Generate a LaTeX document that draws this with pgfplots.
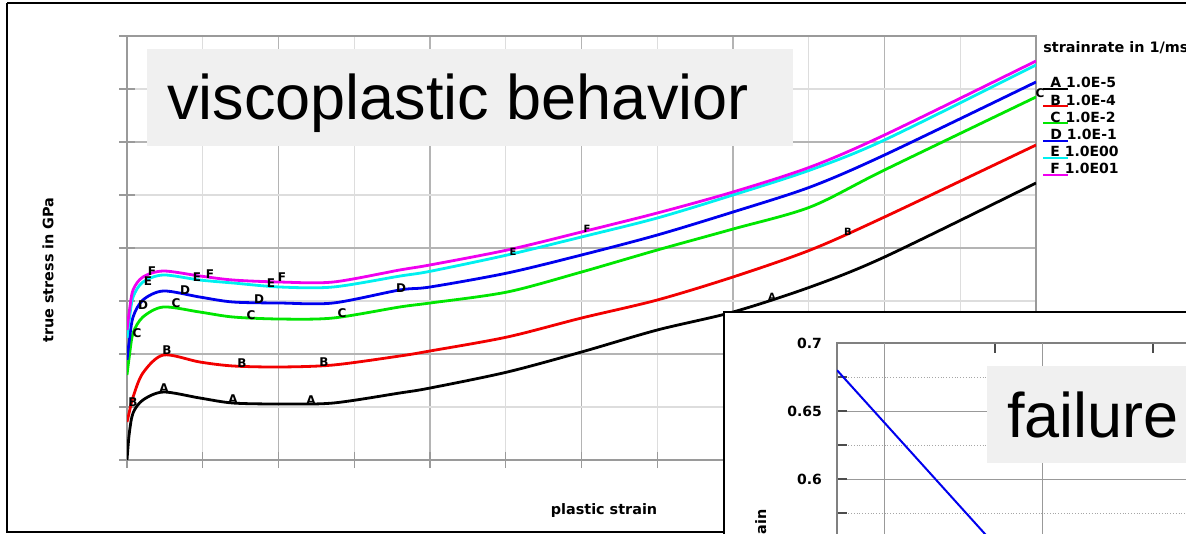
\documentclass[border=0pt]{standalone}
\usepackage{pgfplots}
\pgfplotsset{compat=1.18}
\usepackage{pgfplotstable}
\usepackage{fontspec}
\setmainfont{Liberation Sans}
\newfontfamily\dv{DejaVu Sans}
\definecolor{gmaj}{HTML}{B4B4B4}
\definecolor{gmin}{HTML}{DDDDDD}
\definecolor{axg}{HTML}{9A9A9A}
\definecolor{cred}{HTML}{F20000}
\definecolor{cgreen}{HTML}{00E600}
\definecolor{cblue}{HTML}{0000EE}
\definecolor{ccyan}{HTML}{00F0F0}
\definecolor{cmag}{HTML}{F000F0}
\definecolor{boxgray}{HTML}{F0F0F0}

\pgfplotstableread{
x     A     B     C     D     E     F
0     0     0.717 1.604 1.887 2.302 2.453
0.03  0.50  0.90  1.95  2.25  2.65  2.80
0.08  0.887 1.189 2.396 2.698 3.075 3.208
0.21  1.132 1.642 2.698 3.019 3.358 3.453
0.48  1.283 1.981 2.887 3.189 3.491 3.566
0.96  1.170 1.849 2.792 3.075 3.396 3.472
1.4   1.075 1.774 2.698 2.981 3.340 3.396
2.02  1.057 1.755 2.660 2.962 3.264 3.358
2.72  1.075 1.792 2.679 2.962 3.264 3.358
3.6   1.264 1.962 2.887 3.208 3.470 3.585
4.0   1.358 2.057 2.962 3.264 3.560 3.680
5.02  1.660 2.321 3.170 3.528 3.868 3.962
6.0   2.038 2.679 3.547 3.868 4.208 4.302
7.0   2.453 3.019 3.962 4.245 4.566 4.660
8.0   2.792 3.453 4.358 4.679 5.000 5.057
9.02  3.264 3.962 4.774 5.151 5.472 5.528
10.0  3.830 4.585 5.472 5.755 6.038 6.132
12.0  5.226 5.943 6.849 7.132 7.453 7.528
}\curves

\pgfplotstableread{
x    y
0    0.68
1.4  0.50
}\failure

\begin{document}
\begin{tikzpicture}
\useasboundingbox (0,0) rectangle (593pt,-267pt);
\clip (0,0) rectangle (593pt,-267pt);
\begin{scope}[x=0.5pt,y=-0.5pt]
\fill[white] (0,0) rectangle (1186,534);
\draw[black,line width=1pt] (7,3) -- (1200,3);
\draw[black,line width=1pt] (7,3) -- (7,532) -- (1200,532);
\end{scope}

\begin{axis}[at={(63.5pt,-230pt)}, anchor=south west, scale only axis,
  width=454.5pt, height=212pt,
  xmin=0, xmax=12, ymin=0, ymax=8,
  xtick={0,2,...,12}, minor xtick={1,3,...,11},
  ytick={0,2,...,8}, minor ytick={1,3,5,7},
  xticklabels={}, yticklabels={},
  grid=both,
  major grid style={gmaj, line width=0.6pt},
  minor grid style={gmin, line width=0.6pt},
  axis line style={axg, line width=0.8pt},
  tick style={axg, line width=0.7pt},
  tick align=center, major tick length=8pt, minor tick length=8pt,
  tick pos=left,
  every axis plot/.append style={smooth, tension=0.5, line width=1.4pt},
  ]
\addplot[black] table[x=x,y=A]{\curves};
\addplot[cred] table[x=x,y=B]{\curves};
\addplot[cgreen] table[x=x,y=C]{\curves};
\addplot[cblue] table[x=x,y=D]{\curves};
\addplot[ccyan] table[x=x,y=E]{\curves};
\addplot[cmag] table[x=x,y=F]{\curves};
\end{axis}

\begin{scope}[x=0.5pt,y=-0.5pt]
% curve letters
\begin{scope}[every node/.style={font=\dv\bfseries\fontsize{6}{7}\selectfont, inner sep=0pt}]
\node at (152,271) {F}; \node at (148,281) {E}; \node at (143,305) {D};
\node at (137,333) {C}; \node at (133,402) {B};
\node at (210,274) {F}; \node at (197,277) {E}; \node at (185,290) {D};
\node at (176,303) {C}; \node at (167,350) {B}; \node at (164,388) {A};
\node at (282,277) {F}; \node at (271,283) {E}; \node at (259,299) {D};
\node at (251,315) {C}; \node at (242,363) {B}; \node at (233,399) {A};
\node at (342,313) {C}; \node at (324,362) {B}; \node at (311,400) {A};
\node at (401,288) {D}; \node at (1040,93) {C};
\end{scope}
\begin{scope}[every node/.style={font=\dv\bfseries\fontsize{5}{6}\selectfont, inner sep=0pt}]
\node at (513,252) {E}; \node at (587,229) {F};
\node at (772,297) {A}; \node at (848,232) {B};
\end{scope}

% axis labels
\node[font=\dv\bfseries\fontsize{7.2}{8}\selectfont, rotate=90] at (48,270) {true stress in GPa};
\node[font=\dv\bfseries\fontsize{7.2}{8}\selectfont] at (604,511) {plastic strain};

% legend
\node[font=\dv\bfseries\fontsize{7.2}{8}\selectfont, anchor=west, inner sep=0pt] at (1043,48) {strainrate in 1/ms};
\foreach \c/\t [count=\i from 0] in {black/A 1.0E-5, cred/B 1.0E-4, cgreen/C 1.0E-2, cblue/D 1.0E-1, ccyan/E 1.0E00, cmag/F 1.0E01}{
  \draw[\c, line width=1pt] (1043,89+17.2*\i) -- (1068,89+17.2*\i);
  \node[font=\dv\bfseries\fontsize{7}{8}\selectfont, anchor=base west, inner sep=0pt] at (1050,88+17.2*\i) {\t};
}

% title box
\fill[boxgray] (147,49) rectangle (793,146);
\node[font=\fontsize{31.5}{36}\selectfont, anchor=base west, inner sep=0pt] at (167,120) {viscoplastic behavior};

% inset frame
\fill[white] (724,312) rectangle (1200,540);
\draw[black, line width=1pt] (724,540) -- (724,312) -- (1200,312);
\end{scope}

\begin{axis}[at={(418.5pt,-171.5pt)}, anchor=north west, scale only axis,
  width=237pt, height=136pt,
  xmin=0, xmax=3, ymin=0.5, ymax=0.7,
  xtick={0,1,2}, xticklabels={}, xtick pos=right,
  extra x ticks={0.3,1.3}, extra x tick labels={},
  extra x tick style={grid=major, major tick length=0pt},
  ytick={0.6,0.65,0.7}, minor ytick={0.575,0.625,0.675}, ytick pos=left,
  ymajorgrids, yminorgrids,
  major grid style={gray!80, line width=0.5pt},
  minor grid style={gray!70, densely dotted, line width=0.4pt},
  axis line style={gray, line width=0.8pt},
  tick style={black!70, line width=0.8pt},
  tick align=inside, major tick length=5pt, minor tick length=5pt,
  yticklabel style={font=\dv\bfseries\fontsize{7}{8}\selectfont},
  yticklabel shift=4pt,
  /pgf/number format/assume math mode=true,
  ]
\addplot[cblue, line width=1pt] table[x=x,y=y]{\failure};
\end{axis}

\begin{scope}[x=0.5pt,y=-0.5pt]
\node[font=\dv\bfseries\fontsize{7.2}{8}\selectfont, rotate=90, anchor=base east, inner sep=0pt] at (766,509) {plastic strain};
\fill[boxgray] (987,366) rectangle (1200,463);
\node[font=\fontsize{31.5}{36}\selectfont, anchor=base west, inner sep=0pt] at (1007,437) {failure};
\end{scope}
\end{tikzpicture}
\end{document}
